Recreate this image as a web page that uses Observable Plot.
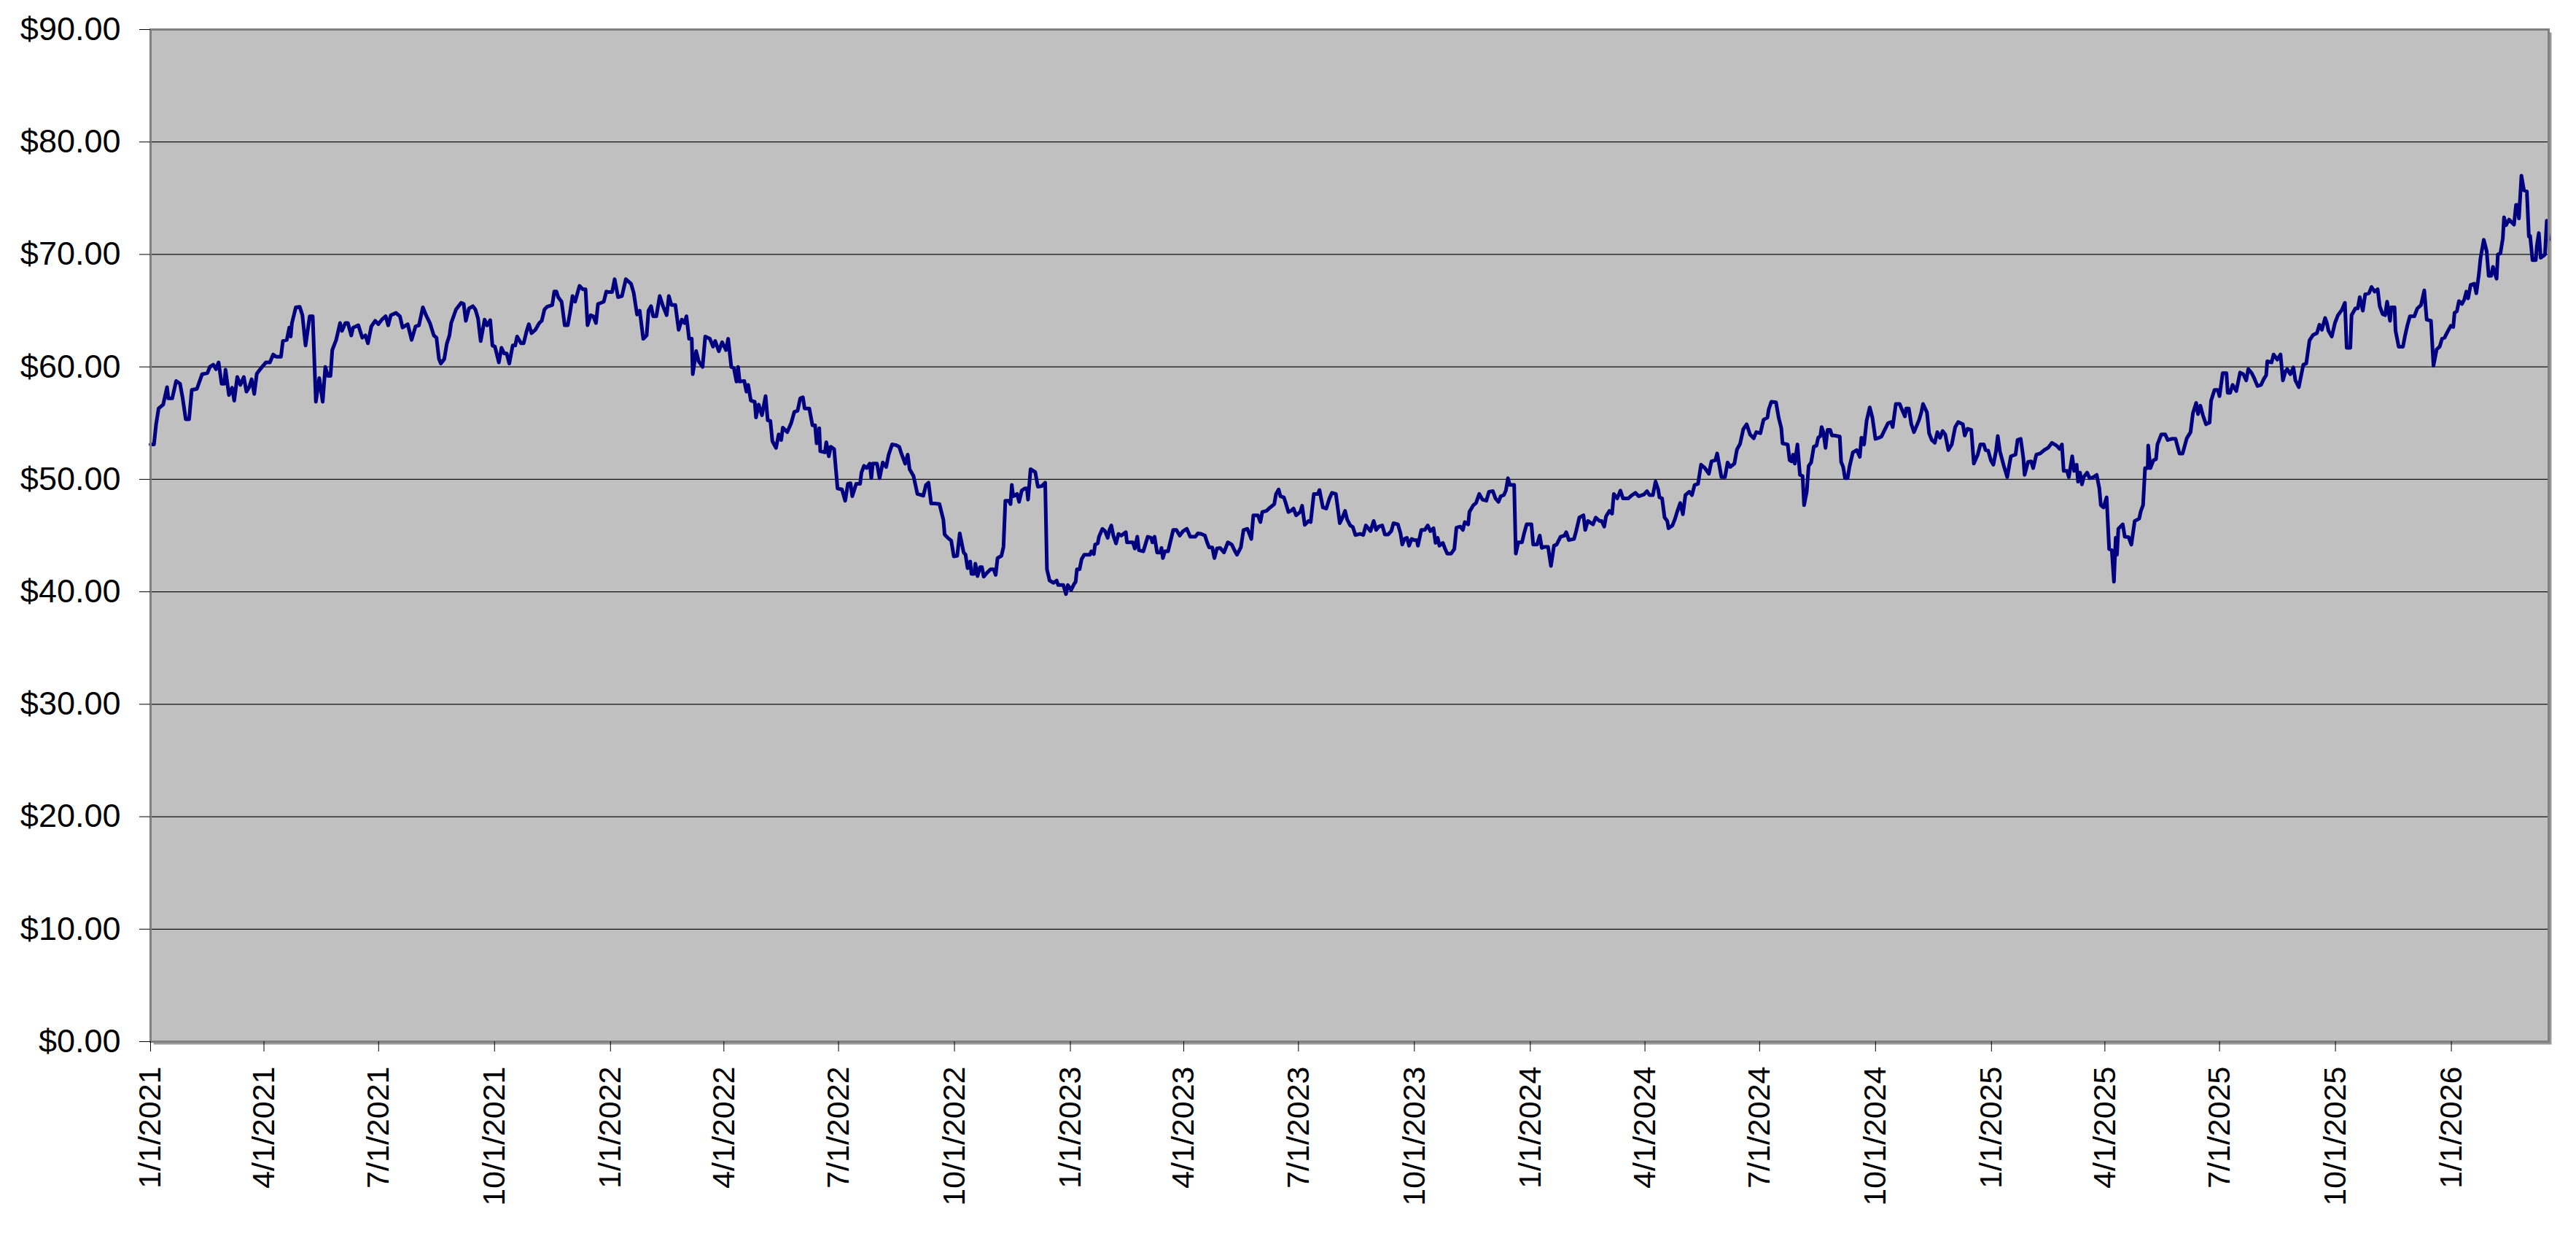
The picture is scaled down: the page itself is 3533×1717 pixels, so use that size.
<!DOCTYPE html>
<html><head><meta charset="utf-8">
<script src="https://cdn.jsdelivr.net/npm/d3@7"></script>
<script src="https://cdn.jsdelivr.net/npm/@observablehq/plot@0.6"></script>
<style>html,body{margin:0;padding:0;background:#fff}</style>
</head><body><div id="chart"></div>
<script>
// [days since 1/1/2021, price]
const prices2021 = [[0,53.1],[2.7,53.1],[4.4,54.9],[6.4,56.3],[10,56.65],[13.1,58.2],[14.1,57.2],[17.2,57.2],[20.3,58.75],[23.4,58.5],[25.5,57.2],[27.9,55.35],[30.6,55.35],[32.7,57.95],[36.8,58.05],[40.9,59.35],[45.1,59.45],[47.1,60],[49.8,60.2],[51.9,59.8],[54,60.4],[56.4,58.5],[58.5,58.5],[59.5,59.75],[62.2,57.5],[64.7,58.15],[66.4,57],[68.8,59.1],[71.3,58.4],[74,59.1],[76.1,57.8],[78.1,58.15],[80.2,58.9],[82.3,57.6],[84.3,59.4],[88.5,60],[91.6,60.4],[94.7,60.4],[97.3,61.1],[99.8,60.9],[103.5,60.9],[105,62.3],[108.1,62.4],[110.1,63.5],[111.2,62.7],[112.2,63.9],[115.3,65.3],[118.4,65.35],[120.5,64.6],[123,61.9],[126.3,64.5],[128.7,64.5],[131.2,56.9],[133.9,59],[136.6,56.9],[138.7,60],[140.7,59.2],[142.8,59.2],[144.2,61.5],[147.3,62.4],[150.4,63.9],[151.9,63.2],[154.6,63.9],[156.6,63.9],[159.3,62.8],[160.8,63.5],[164.9,63.7],[168,62.6],[170.5,62.8],[172.5,62.1],[175.2,63.6],[178.3,64.1],[180.8,63.8],[183.5,64.2],[186.6,64.5],[188.6,63.7],[190.7,64.6],[194.8,64.8],[197.9,64.5],[200,63.5],[204.1,63.8],[207.2,62.4],[210.3,63.6],[213,63.7],[216.1,65.3],[218.6,64.6],[221.7,63.9],[224.8,62.8],[226.9,62.6],[228.9,60.7],[230.4,60.3],[233.1,60.7],[235.1,62.05],[237.2,62.8],[238.6,63.9],[242.4,65.1],[246.5,65.7],[248.5,65.6],[250.2,64.1],[252.7,65.2],[255.8,65.4],[257.8,65.1],[259.9,64.3],[262,62.3],[265.1,64.2],[267.1,63.7],[269.6,64.15],[271.3,61.9],[273.3,61.8],[276.4,60.4],[278.5,61.7],[280.6,61.2],[282.6,61.2],[284.7,60.3],[287.4,61.9],[289.4,61.9],[290.9,62.7],[294,62.1],[296.1,62.1],[298.5,63.2],[300.2,63.8],[302.3,63],[305.4,63.3],[308.5,63.9],[310.5,64.1],[312.6,65.1],[314.7,65.35],[318.8,65.5],[320.4,66.7],[322.1,66.7],[323.5,66.2],[326.2,65.8],[328.7,63.7],[331.1,63.7],[332.8,64.75],[334.9,66.3],[336.9,65.8],[340.4,67.2],[343.1,66.9],[345.2,66.9],[346.8,63.7],[349.3,64.6],[351.4,64.5],[353.5,63.9],[355.1,65.6],[357.6,65.7],[359.7,65.8],[361.7,66.7],[363.8,66.65]];
const prices2022 = [[366.3,66.65],[368.3,67.8],[371,66.2],[374.1,66.3],[377.2,67.8],[381.3,67.4],[383.4,66.6],[386.1,64.65],[388.2,65],[391,62.5],[393.7,62.8],[395.2,65],[397.2,65.4],[398.9,64.5],[401.4,64.5],[404.1,66.3],[406.7,65.4],[409.6,64.6],[411.3,66.3],[413.4,65.5],[416.5,65.5],[419.1,63.3],[421.6,64.2],[423.7,63.9],[425.3,64.5],[427.4,62.5],[429.5,62.5],[430.3,59.35],[433,61.4],[435,60.5],[438.1,60],[440.2,62.7],[443.9,62.5],[446.4,61.8],[448.1,62.3],[451,61.4],[453.6,62.2],[456.7,61.5],[458.4,62.5],[460.9,60],[462.9,59.9],[465,58.7],[466.3,60],[467.5,58.7],[471.2,58.75],[472.9,57.8],[474.3,58.4],[476.4,57],[479.5,56.9],[480.5,55.5],[482.6,56.65],[485.2,55.7],[488.1,57.4],[489.8,55.25],[491.9,55.2],[493.5,53.4],[496.4,52.8],[498.5,54],[500.5,53.5],[501.8,54.6],[505.3,54.2],[508.4,55],[510.9,56],[513.5,56.1],[515.6,57.2],[517.7,57.3],[519.1,56.3],[522.8,56.3],[525.3,54.8],[527.4,54.8],[528.6,53.2],[530.7,54.55],[531.5,52.5],[535.2,52.4],[536.3,53.3],[538.3,52.05],[539.8,52.9],[542.5,52.7],[545.2,49.2],[548.7,49.1],[551.3,48.1],[553.4,49.6],[555.5,49.65],[556.9,48.5],[560,49.6],[563.1,49.6],[564.2,50.6],[566.2,51.2],[568.3,51],[570.8,51.4],[572,50.1],[573.2,51.4],[576.5,51.4],[578.6,50.1],[581.1,51.5],[583.8,51.1],[585.8,52.2],[588.5,53.1],[591.4,53.05],[594.1,52.9],[596.2,52.2],[598.9,51.4],[600.9,52.2],[602.4,50.9],[605.5,50.3],[608.6,48.7],[613.3,48.55],[615.4,49.5],[617.4,49.7],[619.5,47.85],[622.4,47.85],[626.1,47.8],[629.2,46.4],[630.2,45.1],[632.7,44.8],[635.4,44.55],[637.5,43.15],[640.2,43.2],[642.2,45.2],[645.3,43.5],[646.8,43.3],[648.4,42.1],[650.5,42.7],[651.5,41.6],[653.6,41.6],[654.6,42.5],[656.3,41.4],[658.3,42.2],[659.8,42.2],[661.2,41.35],[663.9,41.7],[666.6,42],[669.1,42],[670.7,41.5],[672.2,43],[675.3,43.2],[676.9,44],[678.4,48.1],[681.1,48.1],[682.5,47.8],[683.5,49.5],[684.6,48.5],[687.7,48.7],[689.3,48],[691.4,49],[693.9,49.2],[695.5,49.2],[696.4,48.2],[698.4,50.9],[702.1,50.65],[704.2,49.35],[707.3,49.4],[710,49.7],[711.4,42],[713.5,41],[716.6,40.8],[719.1,41],[720.3,40.6],[724.4,40.6],[726.5,39.8],[728,40.6]];
const prices2023 = [[730.6,40.15],[732.7,40.65],[734.2,40.9],[735.2,42],[737.3,42],[738.9,42.9],[741,43.3],[745.5,43.3],[746.6,43.6],[748.6,43.35],[749.6,44.2],[751.7,44.3],[752.7,44.9],[755.4,45.6],[757.5,45.4],[759.6,44.8],[761,45.5],[762.5,45.9],[764.1,45],[766.2,44.3],[768.2,45.15],[770.3,45],[774,45.3],[774.9,44.4],[779.6,44.4],[781.1,43.85],[783.1,44.9],[784.4,43.7],[787.9,43.6],[791.4,44.9],[794.1,44.8],[795.1,44.4],[796.8,44.9],[798.8,43.5],[801.3,43.5],[802.3,43.9],[803.4,43],[805,43.6],[807.5,43.6],[811.6,45.5],[814.1,45.5],[816.8,45],[819.5,45.4],[822.4,45.6],[825.1,44.9],[829.2,44.9],[831.2,45.2],[833.9,45.15],[836.8,45],[838.5,44.4],[840.1,43.95],[842.6,43.95],[844.3,43],[846.3,43.85],[848.8,43.9],[851.9,43.5],[855,44.4],[858.1,44.2],[860.2,43.7],[862.2,43.3],[865.3,43.95],[867.4,45.5],[870.5,45.6],[873.6,44.7],[875.2,46.8],[878.8,46.8],[880.8,46.2],[882.3,47.1],[885.6,47.2],[888.5,47.5],[891.8,47.8],[893.2,48.7],[895.3,49.1],[896.7,48.5],[899.4,48.4],[900.9,47.9],[903,47.1],[905,47.2],[907.1,47.4],[909.1,46.8],[912.4,47.1],[913.9,47.65],[916,45.95],[919,46.3],[920.7,46.2],[923.2,48.7],[926.3,48.7],[927.7,49.05],[930.4,47.5],[933.1,47.4],[935.6,48.3],[937.6,48.8],[940.7,48.7],[941.8,47.8],[943.8,46.1],[945.9,46.6],[948,47.2],[949.6,46.45],[952.1,45.9],[954.2,45.75],[956.2,45.05],[959.9,45.15],[962.4,45.05],[964.5,45.9],[968.2,45.4],[970.7,46.3],[972.7,45.5],[974.8,45.8],[977.5,45.9],[979.6,45.1],[982.2,45.1],[984.7,45.4],[986.4,46.1],[989.9,46],[992,45.2],[993.4,44.2],[995.1,44.7],[997.1,44.8],[998.8,44.1],[1000.8,44.7],[1002.9,44.6],[1005,44.6],[1005.8,44.1],[1008.5,45.5],[1011.2,45.5],[1013.6,45.9],[1015.7,45.4],[1018.2,45.65],[1019.8,44.35],[1021.5,44.8],[1022.9,44.1],[1025.6,44.35],[1027.1,43.9],[1029.1,43.4],[1032.2,43.4],[1034.7,43.8],[1036.4,45.7],[1039.5,45.8],[1041.5,45.5],[1043,46.2],[1045.7,46],[1046.7,47.1],[1049.8,47.7],[1051.9,47.9],[1054.5,48.7],[1057,48.2],[1060.1,48.1],[1062.2,48.9],[1065.3,48.95],[1067.4,48.3],[1069.8,48],[1071.5,48.5],[1074,48.6],[1075.6,49],[1077.3,50.1],[1078.7,49.5],[1082.2,49.5],[1083.5,43.4],[1085.5,44.4],[1088.4,44.4],[1090.1,45.2],[1092.1,46]];
const prices2024 = [[1095.9,46],[1097.3,44.2],[1100.4,44.2],[1102.5,45],[1104.1,43.9],[1106.2,44],[1109.1,44],[1111.4,42.3],[1113.8,44.1],[1115.9,44.2],[1119,44.9],[1122.1,45],[1123.5,45.3],[1125.6,44.6],[1129.7,44.7],[1131.4,45.4],[1133.9,46.6],[1137.2,46.8],[1138.6,45.5],[1140.7,46.3],[1144.8,46],[1146.9,46.6],[1150,46.3],[1151.6,46.3],[1153.7,45.8],[1155.1,46.7],[1157.8,47.2],[1159.9,46.95],[1161.3,48.7],[1164,48.3],[1166.5,49],[1168.6,48.3],[1172.7,48.3],[1175.8,48.6],[1178.5,48.8],[1181,48.5],[1185.1,48.65],[1187.6,48.95],[1189.6,48.6],[1192.3,48.6],[1194.4,49.8],[1196.5,49.1],[1197.5,48.4],[1199.6,48.3],[1201.6,46.6],[1203.7,46.3],[1204.7,45.65],[1207.8,45.9],[1209.9,46.5],[1211.5,47.1],[1214,47.9],[1216.1,46.9],[1218.1,48.6],[1221.2,48.9],[1223.3,48.6],[1225.4,49.5],[1228.1,49.6],[1230.5,51.3],[1233.6,51],[1236.7,50.5],[1238.8,51.6],[1241.9,51.7],[1243.3,52.3],[1245.4,51],[1246.7,50.2],[1249.5,50.2],[1251.6,51.5],[1253.7,51.1],[1257,51.4],[1259,52.65],[1261.5,53.15],[1264,54.45],[1266.7,54.9],[1269.4,54],[1272.3,53.65],[1274.3,54.2],[1277.6,54.1],[1280.1,55.3],[1283.2,55.5],[1284.3,56.25],[1286.3,56.9],[1290,56.85],[1292.1,55.5],[1294.2,54.55],[1295.2,53.2],[1299.3,53.1],[1300.8,51.7],[1302.4,51.6],[1303.5,52.2],[1304.9,51.4],[1307,53.1],[1309,50.4],[1311.1,50.3],[1312.3,47.7],[1314.4,48.9],[1315.9,51.2],[1317.9,51.5],[1320,52.9],[1322.1,53],[1323.5,53.7],[1325.2,53.85],[1326.2,54.65],[1327.6,54.2],[1329.3,52.8],[1330.9,54.4],[1333,54.4],[1334.4,53.9],[1336.5,53.9],[1340.6,53.8],[1341.7,51.55],[1343.3,51.1],[1344.8,50.1],[1346.8,50.1],[1348.3,51.1],[1351,52.4],[1354.1,52.6],[1356.5,52],[1357.8,53.7],[1359.9,53.1],[1361.9,55.2],[1364.4,56.4],[1366.5,55.5],[1368.9,53.6],[1371.6,53.7],[1373.7,53.8],[1375.8,54.3],[1378.9,55],[1381.3,55.1],[1382.6,54.65],[1385.1,56.7],[1388.2,56.7],[1389.6,56.3],[1392.3,55.6],[1393.3,56.3],[1395.4,56.3],[1397.4,54.9],[1399.5,54.2],[1401.6,54.75],[1403.6,55.3],[1405.3,55.95],[1406.7,56.7],[1409.8,55.95],[1411.5,54.1],[1413.6,53.5],[1416,53.25],[1418.1,54.2],[1420.2,53.7],[1422.2,54.3],[1424.3,54],[1426.8,52.6],[1429.5,53.1],[1432.2,54.65],[1434.6,55.1],[1438.3,54.9],[1439.8,53.9],[1441.9,54.5],[1445,54.4],[1447,51.4],[1450.1,52.2],[1452.2,53.1],[1454.9,53.1],[1456.3,52.6],[1458.4,52.55]];
const prices2025 = [[1460.5,51.7],[1462.5,51.3],[1464.6,52.5],[1466,53.85],[1467.7,52.5],[1470.8,51.2],[1473.5,50.2],[1476.4,52.05],[1480.1,52.2],[1481.7,53.5],[1484.2,53.6],[1486.3,51.9],[1487.3,50.4],[1490,51.55],[1492.5,51.6],[1494.1,51],[1496.6,52.2],[1499.7,52.3],[1502.8,52.6],[1505.9,52.8],[1509,53.25],[1512.7,53],[1515.2,52.7],[1516.9,53.1],[1518.3,50.75],[1521,50.75],[1522.4,50.2],[1525.1,52.05],[1526.6,50.75],[1528.6,51.3],[1529.7,49.8],[1531.3,50.6],[1532.8,49.55],[1534.2,50.2],[1536.9,50.6],[1538.9,50.1],[1542,50.2],[1544.5,50.4],[1546.6,49.2],[1547.8,47.7],[1549.9,47.5],[1552.4,48.4],[1554.4,43.8],[1556.5,43.7],[1558.2,40.9],[1559.6,44.8],[1560.6,43.3],[1561.7,45.6],[1565.2,46],[1566.8,44.9],[1569.9,44.85],[1572,44.2],[1574.7,46.3],[1578.2,46.5],[1579.6,47.2],[1581.3,47.7],[1582.9,51],[1585,51],[1585.4,53],[1587.1,51],[1589.6,51.7],[1591.6,51.8],[1592.7,53.1],[1595.8,54],[1598.9,54],[1600.9,53.5],[1604,53.6],[1607.1,53.6],[1610.2,52.3],[1612.7,52.3],[1616,53.65],[1619,54.2],[1620.9,55.9],[1623.5,56.8],[1624.9,55.8],[1626.8,56.55],[1628.8,55.7],[1631.3,54.9],[1634.1,55.05],[1635.3,57],[1638,57.95],[1640.6,57.95],[1642,57.4],[1644.5,59.45],[1647.5,59.45],[1648.5,57.7],[1650.4,57.7],[1652.4,58.4],[1655.3,57.85],[1658.3,59.5],[1660.9,59.35],[1663.2,58.8],[1664.8,59.8],[1667.5,59.45],[1669.1,59.1],[1672.1,58.3],[1675,58.4],[1677,58.9],[1679,59.25],[1679.9,60.5],[1683.3,60.4],[1684.9,61.1],[1687.8,60.65],[1690.4,61.1],[1692.3,58.8],[1694.3,59.6],[1695.7,59.8],[1698.2,59.35],[1700.6,59.95],[1702.2,58.8],[1704.9,58.2],[1708.5,60.2],[1710.8,60.3],[1713.4,62.35],[1716.3,62.85],[1719.3,63],[1721.3,63.75],[1723.2,63.3],[1725.8,64.35],[1727.2,63.9],[1728.5,63.2],[1731.1,62.7],[1733.6,63.9],[1736,64.6],[1739,65.05],[1741.5,65.7],[1742.9,61.7],[1745.8,61.7],[1746.8,64.6],[1749.8,65.2],[1751.7,65.2],[1753.3,66.2],[1755.7,65],[1757.6,66.45],[1760.6,66.55],[1762.6,67.1],[1765.1,66.7],[1767.5,66.9],[1769.1,65.4],[1771.4,64.7],[1773.4,64.6],[1775,65.8],[1777.3,64.1],[1778.3,65.3],[1780.9,65.3],[1781.7,63.2],[1784.2,61.8],[1787.6,61.8],[1789.1,62.7],[1791.1,63.7],[1793.1,64.5],[1796.6,64.5],[1799,65.2],[1801.9,65.5],[1804.5,66.8],[1806.4,64.2],[1809.8,64.1],[1811.8,60.1],[1814.3,61.55],[1816.7,61.8],[1818.6,62.5],[1820.6,62.6],[1822.6,63.05],[1825.5,63.65]];
const prices2026 = [[1827.5,63.55],[1828.5,64.8],[1830.4,64.95],[1832,65.85],[1834.4,65.6],[1836.3,66],[1837.9,66.7],[1839.3,66.1],[1841.3,67.3],[1844.2,67.4],[1845.8,66.55],[1847.8,68.2],[1849.1,69.65],[1851.7,71.3],[1854,70.3],[1855.6,68.1],[1857.6,68.1],[1859,68.9],[1860.3,68.4],[1861.9,67.85],[1862.9,70],[1864.9,70.1],[1866.8,71.4],[1867.8,73.3],[1869.4,72.6],[1871.8,73.1],[1875.7,72.65],[1877.3,74.4],[1878.6,74.4],[1879.6,73.2],[1881.6,77],[1883.6,75.7],[1885.9,75.6],[1887.5,71.6],[1888.5,71.65],[1890.4,69.5],[1893,69.5],[1893.8,70.75],[1895.4,71.9],[1896.9,69.7],[1899.3,69.9],[1900.3,70],[1901.7,73],[1903.2,71.3]];

const yTicks = [0, 10, 20, 30, 40, 50, 60, 70, 80, 90];
const xTickDates = ["2021-01-01","2021-04-01","2021-07-01","2021-10-01","2022-01-01","2022-04-01","2022-07-01","2022-10-01","2023-01-01","2023-04-01","2023-07-01","2023-10-01","2024-01-01","2024-04-01","2024-07-01","2024-10-01","2025-01-01","2025-04-01","2025-07-01","2025-10-01","2026-01-01"];

const t0 = Date.UTC(2021, 0, 1);
const toDate = d => new Date(t0 + d * 864e5);
const data = [...prices2021, ...prices2022, ...prices2023, ...prices2024, ...prices2025, ...prices2026]
  .map(([d, p]) => ({date: toDate(d), price: p}));
const fmtDate = d => `${d.getUTCMonth() + 1}/${d.getUTCDate()}/${d.getUTCFullYear()}`;

const chart = Plot.plot({
  width: 3533,
  height: 1717,
  marginLeft: 206,
  marginRight: 38,
  marginTop: 40,
  marginBottom: 289,
  style: {fontFamily: "'Liberation Sans', Arial, sans-serif", background: "#fff", color: "#000", overflow: "visible"},
  x: {type: "utc", domain: [data[0].date, data[data.length - 1].date], axis: null},
  y: {domain: [0, 90], axis: null},
  marks: [
    Plot.frame({fill: "#9a9a9a", dx: 4, dy: 4}),
    Plot.frame({fill: "#c0c0c0"}),
    Plot.gridY(yTicks, {stroke: "#111", strokeOpacity: 1, strokeWidth: 1.3}),
    Plot.lineY(data, {x: "date", y: "price", stroke: "#000080", strokeWidth: 5, strokeLinejoin: "round"}),
    Plot.frame({stroke: "#808080", strokeWidth: 3}),
    Plot.axisY(yTicks, {tickFormat: d => "$" + d.toFixed(2), tickSize: 15, tickPadding: 26, fontSize: 45, label: null}),
    Plot.axisX(xTickDates.map(s => new Date(s + "T00:00:00Z")), {tickFormat: fmtDate, tickRotate: -90, tickSize: 14, tickPadding: 20, fontSize: 43, label: null})
  ]
});
document.getElementById("chart").appendChild(chart);
</script>
</body></html>
